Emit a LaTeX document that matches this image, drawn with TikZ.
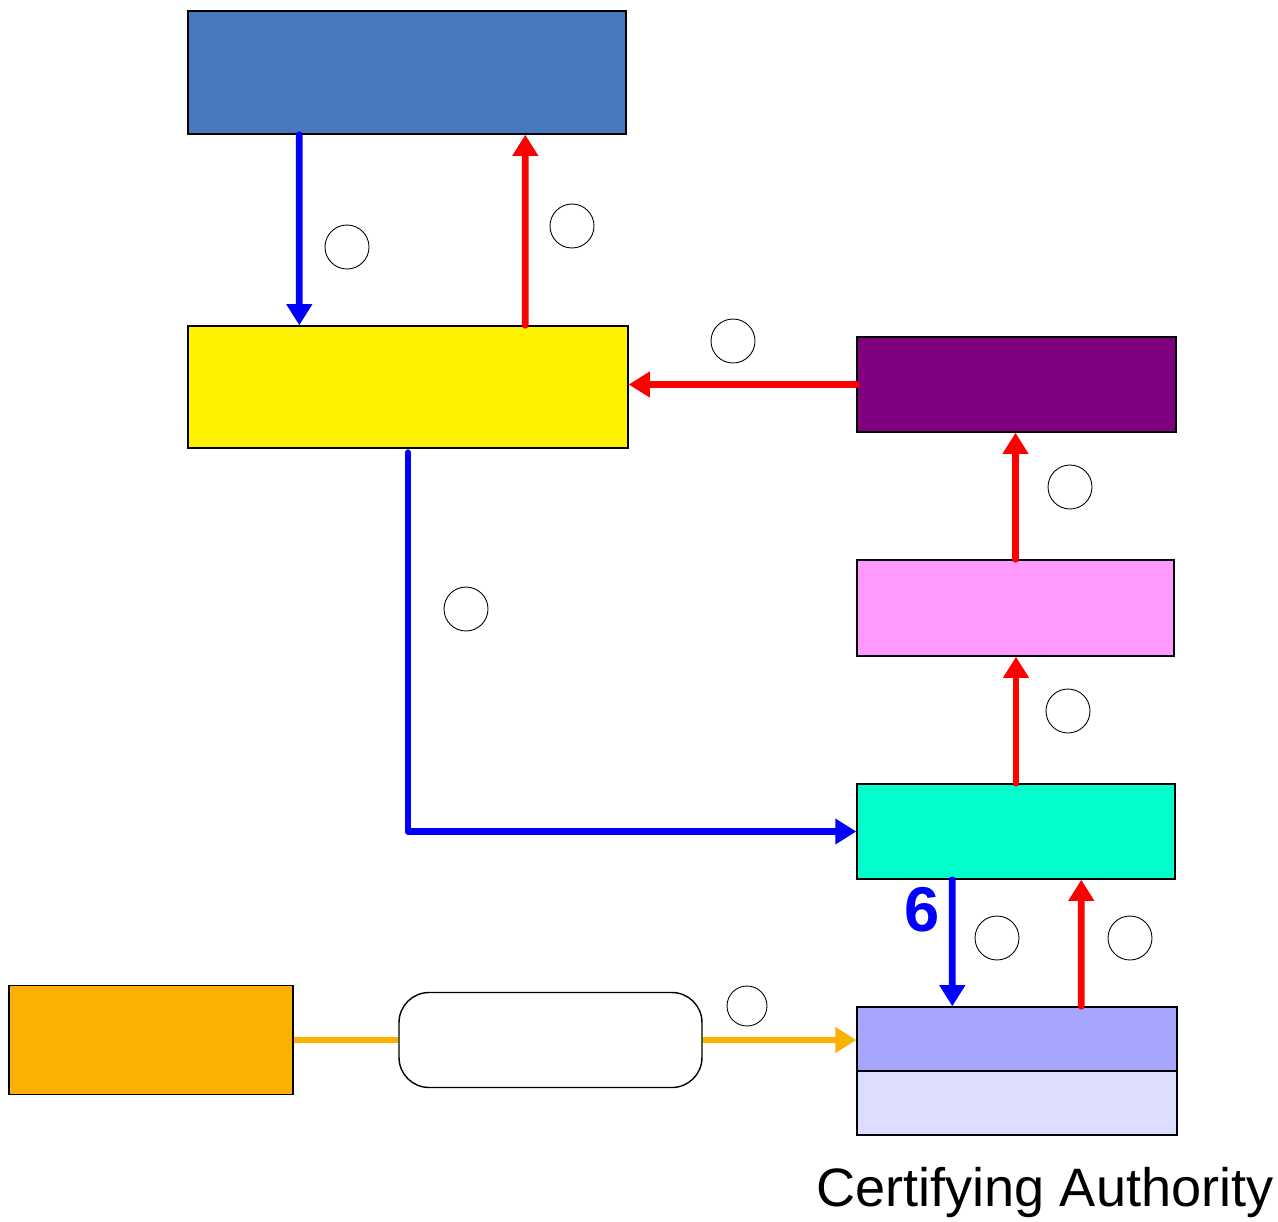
\documentclass[tikz,border=0pt]{standalone}
\usepackage{fontspec}
\setmainfont{Liberation Sans}
\usetikzlibrary{arrows.meta}
\definecolor{topblue}{RGB}{72,120,190}
\definecolor{mauve}{RGB}{128,0,128}
\definecolor{pinkish}{RGB}{255,153,255}
\definecolor{aqua}{RGB}{0,255,204}
\definecolor{lavender}{RGB}{166,166,255}
\definecolor{palelav}{RGB}{221,221,255}
\definecolor{amber}{RGB}{252,176,4}
\begin{document}
\begin{tikzpicture}
[x = 0.02cm, y = -0.02cm,
 box/.style = {shape = rectangle, draw, line width = 0.8pt, inner sep = 0pt},
 num/.style = {shape = circle, draw, line width = 0.5pt, minimum size = 0.88cm, inner sep = 0pt},
 flow/.style = {line width = 3.8pt, line cap = round, line join = round, -{Triangle[width = 14pt, length = 12pt]}}]
\useasboundingbox (0,0) rectangle (1278,1221);
\node[box, fill = topblue, minimum width = 8.76cm, minimum height = 2.46cm] (app) at (407,72.5) {};
\node[box, fill = yellow, minimum width = 8.8cm, minimum height = 2.44cm] (server) at (408,387) {};
\node[box, fill = mauve, minimum width = 6.38cm, minimum height = 1.9cm] (verify) at (1016.5,384.5) {};
\node[box, fill = pinkish, minimum width = 6.34cm, minimum height = 1.92cm] (check) at (1015.5,608) {};
\node[box, fill = aqua, minimum width = 6.36cm, minimum height = 1.9cm] (request) at (1016,831.5) {};
\node[box, fill = lavender, minimum width = 6.4cm, minimum height = 1.28cm] (ca) at (1017,1039) {};
\node[box, fill = palelav, minimum width = 6.4cm, minimum height = 1.28cm] (cadb) at (1017,1103) {};
\node[box, fill = amber, minimum width = 5.68cm, minimum height = 2.18cm] (owner) at (151,1040) {};
\node[box, rounded corners = 0.6cm, fill = white, minimum width = 6.06cm, minimum height = 1.9cm] (channel) at (550.5,1040) {};

\draw[flow, blue] ([xshift = 2.24cm]app.south west) -- ([xshift = 2.24cm]server.north west);
\draw[flow, red] ([xshift = 6.76cm]server.north west) -- ([xshift = 6.76cm]app.south west);
\draw[flow, red] (verify.west) -- (server.east |- verify.west);
\draw[flow, red] (check.north) -- (check.north |- verify.south);
\draw[flow, red] (request.north) -- (request.north |- check.south);
\draw[flow, blue] ([yshift = -0.08cm]server.south) |- (request.west);
\draw[flow, blue] ([xshift = 1.92cm]request.south west) -- ([xshift = 1.92cm]ca.north west);
\draw[flow, red] ([xshift = 4.5cm]ca.north west) -- ([xshift = 4.5cm]request.south west);
\draw[line width = 3.8pt, amber] (owner.east) -- (channel.west);
\draw[flow, amber, line cap = butt] (channel.east) -- (channel.east -| ca.west);

\node[num] (n1) at (347,247) {};
\node[num] (n2) at (572,226) {};
\node[num] (n3) at (733,341) {};
\node[num] (n4) at (1070,487) {};
\node[num] (n5) at (466,609) {};
\node[num] (n6) at (1068,711) {};
\node[num] (n7) at (997,938) {};
\node[num] (n8) at (1130,938) {};
\node[num, minimum size = 0.8cm] (n9) at (747,1006) {};

\node[text = blue, font = \fontsize{36}{40}\selectfont\bfseries] (six) at (922,910) {6};
\node[font = \fontsize{30.8}{36}\selectfont] (calabel) at (1045,1192) {Certifying Authority};
\end{tikzpicture}
\end{document}
